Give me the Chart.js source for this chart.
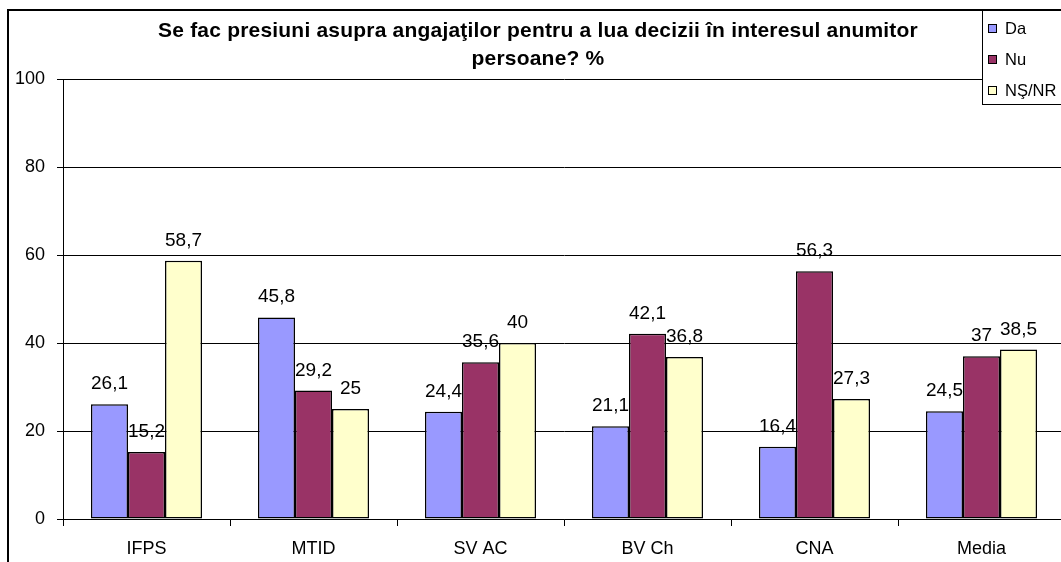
<!DOCTYPE html>
<html>
<head>
<meta charset="utf-8">
<script src="https://cdn.jsdelivr.net/npm/chart.js@4/dist/chart.umd.min.js"></script>
<style>
    html, body { margin: 0; padding: 0; background: #fff; overflow: hidden; }
    #wrap { position: relative; width: 1070px; height: 562px; }
</style>
</head>
<body>
<div id="wrap"><canvas id="pressChart"></canvas></div>
<script>
const categories = ['IFPS', 'MTID', 'SV AC', 'BV Ch', 'CNA', 'Media'];
const daValues = [26.1, 45.8, 24.4, 21.1, 16.4, 24.5];
const nuValues = [15.2, 29.2, 35.6, 42.1, 56.3, 37];
const nsnrValues = [58.7, 25, 40, 36.8, 27.3, 38.5];
const seriesNames = ['Da', 'Nu', 'NŞ/NR'];
const titleLines = ['Se fac presiuni asupra angajaţilor pentru a lua decizii în interesul anumitor', 'persoane? %'];

const FONT = '"Liberation Sans", Arial, sans-serif';
const fmt = v => String(v).replace('.', ',');

// frame, title, legend and value labels drawn by hand (Excel look)
const excelDecor = {
    id: 'excelDecor',
    afterDraw(chart) {
        const ctx = chart.ctx;
        ctx.save();

        ctx.strokeStyle = '#000';
        ctx.lineWidth = 2;
        ctx.strokeRect(8, 10, 1100, 600);

        ctx.fillStyle = '#000';
        ctx.font = 'bold 21px ' + FONT;
        ctx.letterSpacing = '0.2px';
        ctx.textAlign = 'center';
        ctx.textBaseline = 'middle';
        ctx.fillText(titleLines[0], 538, 31);
        ctx.fillText(titleLines[1], 538, 59);
        ctx.letterSpacing = '0px';

        // value labels
        ctx.font = '19px ' + FONT;
        ctx.textBaseline = 'alphabetic';
        chart.data.datasets.forEach((ds, i) => {
            chart.getDatasetMeta(i).data.forEach((bar, j) => {
                ctx.fillText(fmt(ds.data[j]), bar.x, bar.y - 15);
            });
        });

        // legend box
        ctx.fillStyle = '#fff';
        ctx.fillRect(982, 10, 100, 95);
        ctx.lineWidth = 1;
        ctx.strokeRect(982.5, 10.5, 100, 94);
        ctx.font = '16.5px ' + FONT;
        ctx.textAlign = 'left';
        ctx.textBaseline = 'middle';
        chart.data.datasets.forEach((ds, i) => {
            const y = 28 + i * 31;
            ctx.fillStyle = ds.backgroundColor;
            ctx.fillRect(988, y - 4, 9, 9);
            ctx.strokeStyle = '#000';
            ctx.strokeRect(988.5, y - 3.5, 8, 8);
            ctx.fillStyle = '#000';
            ctx.fillText(ds.label, 1005, y + 1);
        });
        ctx.restore();
    }
};

const barStyle = { borderColor: '#000', borderWidth: 1.5, borderSkipped: false, barPercentage: 1, categoryPercentage: 0.665 };

new Chart(document.getElementById('pressChart').getContext('2d'), {
    type: 'bar',
    data: {
        labels: categories,
        datasets: [
            { label: seriesNames[0], data: daValues, backgroundColor: '#9999FF', ...barStyle },
            { label: seriesNames[1], data: nuValues, backgroundColor: '#993366', ...barStyle },
            { label: seriesNames[2], data: nsnrValues, backgroundColor: '#FFFFCC', ...barStyle }
        ]
    },
    options: {
        responsive: true,
        maintainAspectRatio: false,
        animation: false,
        layout: { padding: { top: 79, right: 5, left: 0, bottom: 0 } },
        plugins: {
            legend: { display: false },
            title: { display: false },
            tooltip: { enabled: false }
        },
        scales: {
            x: {
                afterFit: s => { s.height = 43; },
                grid: { offset: true, drawOnChartArea: false, drawTicks: true, tickLength: 7, color: '#000' },
                border: { color: '#000', width: 1 },
                ticks: { color: '#000', font: { family: FONT, size: 18 }, padding: 12 }
            },
            y: {
                min: 0,
                max: 100,
                afterFit: s => { s.width = 63; },
                grid: { color: '#000', tickLength: 6 },
                border: { color: '#000', width: 1 },
                ticks: { stepSize: 20, color: '#000', font: { family: FONT, size: 18 }, padding: 12 }
            }
        }
    },
    plugins: [excelDecor]
});
</script>
</body>
</html>
